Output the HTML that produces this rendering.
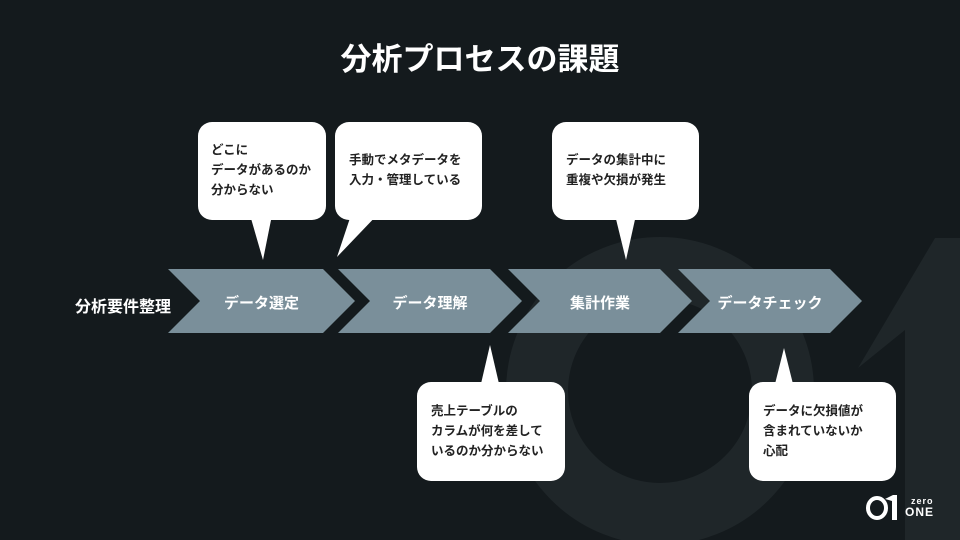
<!DOCTYPE html>
<html><head><meta charset="utf-8"><style>
body{margin:0;width:960px;height:540px;overflow:hidden;background:#141a1d;font-family:"Liberation Sans","Noto Sans CJK JP",sans-serif;}
.t{position:absolute;color:#fff;font-weight:bold;white-space:nowrap}
.b{position:absolute;color:#222;font-size:12.5px;line-height:20px;font-weight:bold}
</style></head><body>
<svg width="960" height="540" style="position:absolute;left:0;top:0">
<circle cx="660" cy="391" r="123" fill="none" stroke="#1f2629" stroke-width="62"/>
<polygon points="858,368 935,238 960,238 960,540 905,540 905,330" fill="#1f2629"/>
<g fill="#7a8f9a">
<polygon points="168,269 323,269 355,301 323,333 168,333 200,301"/>
<polygon points="338,269 490,269 522,301 490,333 338,333 370,301"/>
<polygon points="508,269 660,269 692,301 660,333 508,333 540,301"/>
<polygon points="678,269 830,269 862,301 830,333 678,333 710,301"/>
</g>
<g fill="#fff">
<rect x="198" y="122" width="128" height="98" rx="14"/><polygon points="250,215 272,215 263,260"/>
<rect x="335" y="122" width="147" height="98" rx="14"/><polygon points="352,212 380,212 337,257"/>
<rect x="552" y="122" width="147" height="98" rx="14"/><polygon points="615,215 636,215 626,260"/>
<rect x="417" y="382" width="148" height="99" rx="14"/><polygon points="480,388 500,388 490,345"/>
<rect x="749" y="382" width="147" height="99" rx="14"/><polygon points="774,388 794,388 784,348"/>
</g>
<ellipse cx="877" cy="508" rx="9" ry="10" fill="none" stroke="#fff" stroke-width="4"/>
<polygon points="885,499 893,495 897,495 897,520 892,520 892,501" fill="#fff"/>
</svg>
<div class="t" style="left:0;width:960px;text-align:center;top:34px;font-size:31px">分析プロセスの課題</div>
<div class="t" style="left:75px;top:293px;font-size:16px">分析要件整理</div>
<div class="t" style="left:200px;width:123px;text-align:center;top:292px;font-size:15px">データ選定</div>
<div class="t" style="left:370px;width:120px;text-align:center;top:292px;font-size:15px">データ理解</div>
<div class="t" style="left:540px;width:120px;text-align:center;top:292px;font-size:15px">集計作業</div>
<div class="t" style="left:710px;width:120px;text-align:center;top:292px;font-size:15px">データチェック</div>
<div class="b" style="left:211px;top:140px">どこに<br>データがあるのか<br>分からない</div>
<div class="b" style="left:349px;top:150px">手動でメタデータを<br>入力・管理している</div>
<div class="b" style="left:566px;top:150px">データの集計中に<br>重複や欠損が発生</div>
<div class="b" style="left:431px;top:401px">売上テーブルの<br>カラムが何を差して<br>いるのか分からない</div>
<div class="b" style="left:763px;top:401px">データに欠損値が<br>含まれていないか<br>心配</div>
<div class="t" style="left:911px;top:496px;font-size:9px;line-height:10px;letter-spacing:1px">zero</div>
<div class="t" style="left:905px;top:506px;font-size:12px;line-height:13px;letter-spacing:1px">ONE</div>
</body></html>
